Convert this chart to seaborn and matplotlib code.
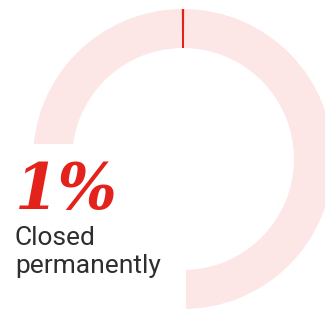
import matplotlib
matplotlib.use('Agg')
import matplotlib.pyplot as plt
import seaborn as sns
from matplotlib.patches import Rectangle

# 数据
labels = ['Closed permanently', 'Other']
shares = [0.3, 99.7]          # the red tick is very thin in the picture
big_label = '1%'
caption_lines = ['Closed', 'permanently']
colors = ['#E3221C', '#FCE6E6']

sns.set_theme(style='white')
plt.rcParams['font.family'] = ['Roboto', 'DejaVu Sans']

W, H = 325, 317
fig = plt.figure(figsize=(W / 100, H / 100), dpi=100)
ax = fig.add_axes([0, 0, 1, 1])

# 环形图
red_angle = shares[0] / sum(shares) * 360
ax.pie(shares, colors=colors, center=(183, 158), radius=150,
       startangle=90 + red_angle / 2, counterclock=False,
       wedgeprops=dict(width=39, linewidth=0), frame=True)
ax.set_xlim(0, W)
ax.set_ylim(0, H)
ax.set_aspect('equal')
ax.axis('off')

# 左下角白色遮挡
ax.add_patch(Rectangle((0, 0), 186, H - 144, facecolor='white',
                       edgecolor='none', zorder=5))

ax.text(15, H - 209, big_label, color='#E3221C', fontsize=45,
        family=['DejaVu Serif'], fontweight='bold', fontstyle='italic',
        ha='left', va='baseline', zorder=6)
for i, line in enumerate(caption_lines):
    ax.text(15, H - 245 - 28 * i, line, color='#2e2e2e', fontsize=19,
            fontweight='normal', ha='left', va='baseline', zorder=6)

fig.savefig('out.png', dpi=100, facecolor='white')
